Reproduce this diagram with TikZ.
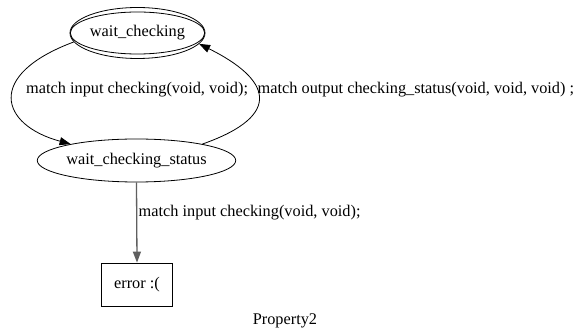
\documentclass[tikz,border=0pt]{standalone}
\usepackage{fontspec}
\setmainfont{Liberation Serif}
\usetikzlibrary{shapes.geometric,arrows.meta}
\begin{document}
\begin{tikzpicture}[x=1pt,y=-1pt,
  every node/.style={font=\fontsize{16.3}{19}\selectfont},
  state/.style={ellipse,draw,line width=0.8pt,inner sep=0pt},
  errbox/.style={rectangle,draw,line width=0.8pt,inner sep=0pt,minimum width=71pt,minimum height=43pt},
  lbl/.style={inner sep=0pt,anchor=west},
  conn/.style={line width=0.8pt,-{Triangle[length=11pt,width=8pt]}},
  vconn/.style={line width=1.3pt,draw={rgb,255:red,95;green,95;blue,95},-{Triangle[length=11pt,width=8pt]}}]
\fill[white] (0,0) rectangle (587,331);
\useasboundingbox (0,0) rectangle (587,331);
% nodes
\node[state,minimum width=135pt,minimum height=51pt] (wco) at (137.5,33) {};
\node[state,minimum width=126pt,minimum height=42pt] (wc) at (137.5,33) {wait\_checking};
\node[state,minimum width=174pt,minimum height=43pt] (wcs) at (136.5,160.5) {wait\_checking\_status};
\node[errbox] (err) at (137,284.5) {error :(};
% labels
\node[lbl] (l1) at (26,90) {match input checking(void, void);};
\node[lbl] (l2) at (257.5,90) {match output checking\_status(void, void, void) ;};
\node[lbl] (l3) at (138.5,213) {match input checking(void, void);};
\node[inner sep=0pt] (title) at (285,321) {Property2};
% connectors
\draw[conn] (wco.188) .. controls (-15,75) and (0,125) .. (wcs.166);
\draw[conn] (wcs.14) .. controls (285,115) and (270,79) .. (wco.350);
\draw[vconn] (wcs.south) -- (err.north);
\end{tikzpicture}
\end{document}
